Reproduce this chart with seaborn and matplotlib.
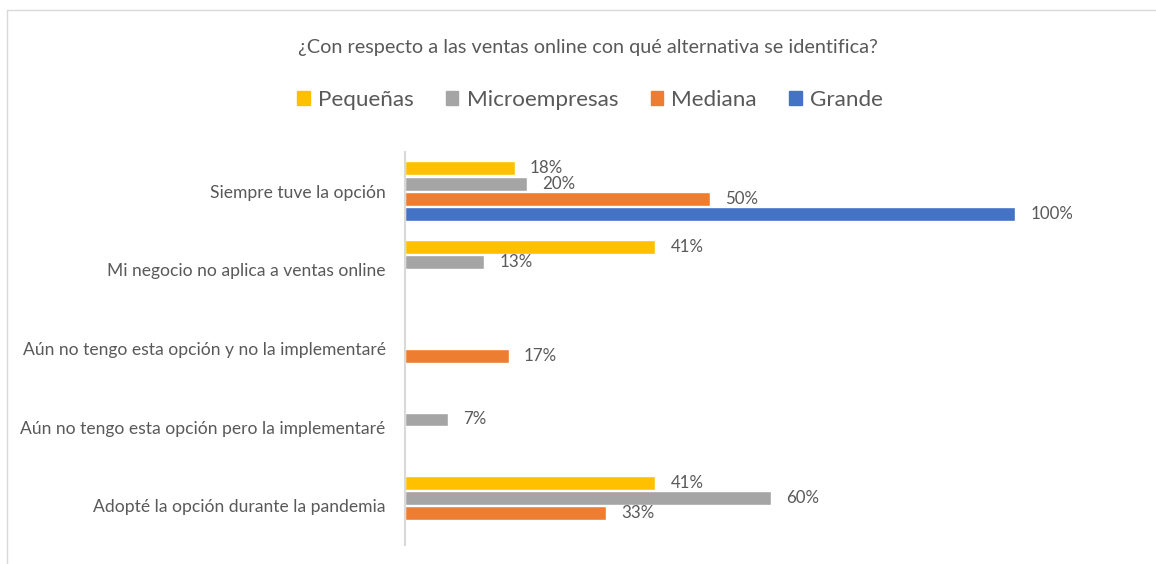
import pandas as pd
import matplotlib.pyplot as plt
import seaborn as sns
from matplotlib.lines import Line2D

# Data (percent)
categories = [
    "Siempre tuve la opción",
    "Mi negocio no aplica a ventas online",
    "Aún no tengo esta opción y no la implementaré",
    "Aún no tengo esta opción pero la implementaré",
    "Adopté la opción durante la pandemia",
]
series = ["Pequeñas", "Microempresas", "Mediana", "Grande"]
pequenas = [18, 41, 0, 0, 41]
microempresas = [20, 13, 0, 7, 60]
mediana = [50, 0, 17, 0, 33]
grande = [100, 0, 0, 0, 0]
colors = ["#FFC000", "#A5A5A5", "#ED7D31", "#4472C4"]

values = [pequenas, microempresas, mediana, grande]
df = pd.DataFrame({
    "categoria": categories * len(series),
    "tamano": [s for s in series for _ in categories],
    "pct": [v for vals in values for v in vals],
})

sns.set_style("white")
plt.rcParams["font.family"] = ["Lato", "DejaVu Sans"]
text_color = "#595959"

W, H = 1156, 564
fig = plt.figure(figsize=(W / 100, H / 100), dpi=100)
ax = fig.add_axes([405 / W, 1 - 545 / H, 732 / W, (545 - 152) / H])

sns.barplot(data=df, y="categoria", x="pct", hue="tamano", order=categories,
            hue_order=series, palette=colors, orient="h", width=0.78, gap=0.1,
            saturation=1, ax=ax, legend=False)

ax.set_xlim(0, 120)
ax.set_xticks([])
ax.set_xlabel("")
ax.set_ylabel("")
for side in ["top", "right", "bottom"]:
    ax.spines[side].set_visible(False)
ax.spines["left"].set_color("#D9D9D9")
ax.spines["left"].set_linewidth(1.5)
ax.tick_params(axis="y", length=0, pad=14, labelsize=12.6, labelcolor=text_color)

for cont, vals in zip(ax.containers, values):
    labels = [f"{v:.0f}%" if v else "" for v in vals]
    ax.bar_label(cont, labels=labels, padding=11, fontsize=12.2, color=text_color)

handles = [plt.Rectangle((0, 0), 1, 1, color=c) for c in colors]
fig.legend(handles, series, loc="center", bbox_to_anchor=(590 / W, 1 - 100 / H),
           ncol=4, frameon=False, fontsize=16.2, handlelength=0.55, handleheight=0.55,
           handletextpad=0.36, columnspacing=1.45, labelcolor=text_color)

fig.text(588 / W, 1 - 47 / H,
         "¿Con respecto a las ventas online con qué alternativa se identifica?",
         ha="center", va="center", fontsize=14.3, color=text_color)

# light chart frame
fig.add_artist(Line2D([7 / W, 7 / W], [0, 1 - 10 / H], color="#D9D9D9", lw=1))
fig.add_artist(Line2D([7 / W, 1], [1 - 10 / H, 1 - 10 / H], color="#D9D9D9", lw=1))

fig.savefig("out.png", dpi=100, facecolor="white")
